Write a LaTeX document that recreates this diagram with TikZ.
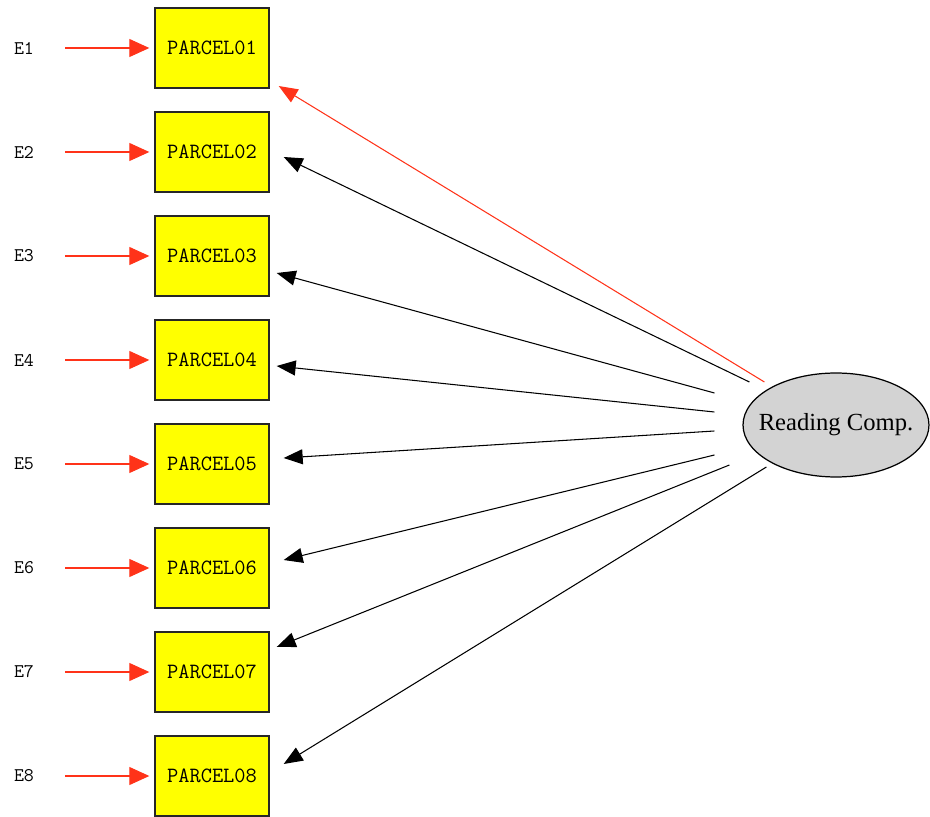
\documentclass[tikz,border=0pt]{standalone}
\usepackage{fontspec}
\setmainfont{Liberation Serif}
\usepackage{tikz}
\usetikzlibrary{shapes.geometric, arrows.meta, calc}
\definecolor{parcelyellow}{RGB}{255, 255, 0}
\definecolor{errred}{RGB}{255, 51, 25}
\definecolor{factorgray}{RGB}{211, 211, 211}

\begin{document}
\begin{tikzpicture}[x=0.02cm, y=-0.02cm,
  parcel/.style={draw=black!85, line width=0.8pt, fill=parcelyellow, minimum width=2.28cm,
    minimum height=1.6cm, inner sep=0pt, font=\ttfamily\fontsize{12.4}{14}\selectfont},
  errlabel/.style={inner sep=0pt, minimum width=0.5cm, font=\ttfamily\fontsize{11}{13}\selectfont},
  errarrow/.style={-{Triangle[length=0.4cm, width=0.36cm]}, errred, line width=0.6pt},
  loading/.style={-{Triangle[length=0.38cm, width=0.3cm]}, line width=0.6pt},
  factor/.style={ellipse, draw, line width=0.7pt, fill=factorgray, minimum width=3.72cm,
    minimum height=2.08cm, inner xsep=-0.24cm, inner ysep=0pt, font=\fontsize{14}{16}\selectfont}]
  \useasboundingbox (0,0) rectangle (930,817);

  % Latent factor
  \node[factor] (rc) at (836,425) {Reading Comp.};

  % Parcels with their error terms
  \foreach \i in {1,...,8} {
    \node[parcel] (p\i) at (212, {48+104*(\i-1)}) {PARCEL0\i};
    \node[errlabel] (e\i) at (24, {48+104*(\i-1)}) {E\i};
    \draw[errarrow, shorten <=0.57cm, shorten >=0.1cm] (e\i) -- (p\i);
  }

  % Loadings
  \foreach \i/\c/\tx/\ty/\hx/\hy in {1/errred/22/-43/9/38, 2/black/7/-43/14/5,
      3/black/-28/-32/7/17, 4/black/-28/-13/7/6, 5/black/-28/6/14/-6,
      6/black/-28/30/14/-8, 7/black/-13/40/7/-25, 8/black/24/42/14/-12} {
    \draw[loading, \c] ($(rc.west)+(\tx,\ty)$) -- ($(p\i.east)+(\hx,\hy)$);
  }
\end{tikzpicture}
\end{document}
